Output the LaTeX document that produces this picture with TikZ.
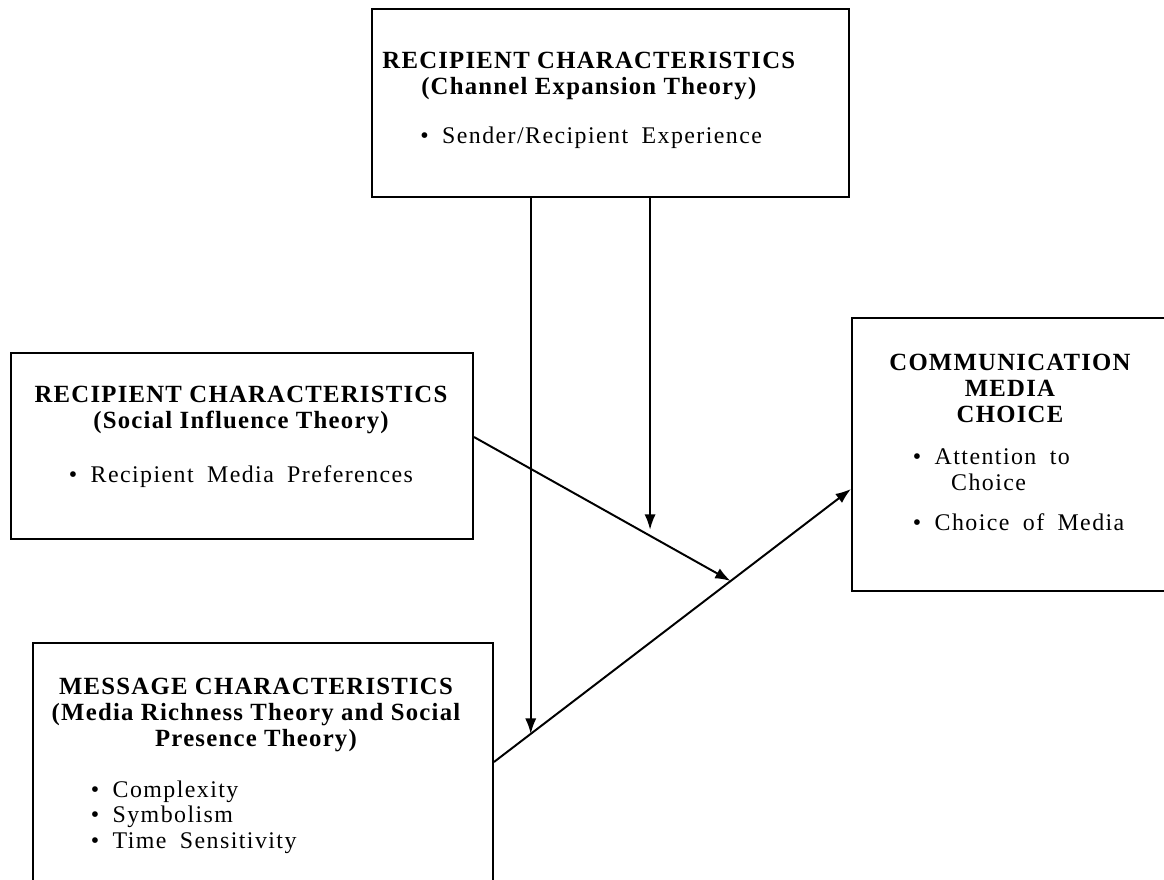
\documentclass[tikz,border=0pt]{standalone}
\usepackage{fontspec}
\setmainfont{Liberation Serif}[LetterSpace=5]
\newfontfamily\itemfont{Liberation Serif}[LetterSpace=6,WordSpace=1.8]
\usetikzlibrary{calc,arrows.meta}

\tikzset{
  box/.style={draw, line width=1.4pt, anchor=north west, inner sep=0pt},
  head/.style={font=\fontsize{17.6}{18.5}\selectfont\bfseries, align=center},
  item/.style={font=\fontsize{17}{18}\selectfont\itemfont, align=left},
  link/.style={line width=1.4pt, -{Latex[length=11pt,width=8pt]}}
}

\begin{document}
\begin{tikzpicture}
\useasboundingbox (0,0) rectangle (29.1,22);
\clip (0,0) rectangle (29.1,22);

% boxes
\node[box, minimum width=11.925cm, minimum height=4.7cm] (top) at (9.275,21.8) {};
\node[box, minimum width=11.55cm, minimum height=4.65cm] (infl) at (0.25,13.2) {};
\node[box, minimum width=11.5cm, minimum height=6.45cm] (msg) at (0.8,5.95) {};
\node[box, minimum width=8.3cm, minimum height=6.825cm] (choice) at (21.275,14.075) {};

% texts
\node[head] (toph) at (14.72,20.1) {RECIPIENT CHARACTERISTICS\\(Channel Expansion Theory)};
\node[item] (topi) at (14.78,18.55) {\textbullet\ Sender/Recipient Experience};

\node[head] (inflh) at (6.025,11.75) {RECIPIENT CHARACTERISTICS\\(Social Influence Theory)};
\node[item] (infli) at (6.025,10.075) {\textbullet\ Recipient Media Preferences};

\node[head] (msgh) at (6.4,4.125) {MESSAGE CHARACTERISTICS\\(Media Richness Theory and Social\\Presence Theory)};
\node[item, anchor=west] (msgi) at (2.15,1.575) {\textbullet\ Complexity\\\textbullet\ Symbolism\\\textbullet\ Time Sensitivity};

\node[head] (choiceh) at (25.25,12.3) {COMMUNICATION\\MEDIA\\CHOICE};
\node[item, anchor=west] (choicei) at (22.7,9.75) {\textbullet\ Attention to\\\hspace{1.6em}Choice\\[11pt]\textbullet\ Choice of Media};

% connectors
\draw[link] ($(msg.north east)+(0,-3)$) -- ($(choice.north west)+(0,-4.3)$)
  coordinate[pos=0.103] (m1) coordinate[pos=0.663] (m2);
\draw[link] ($(infl.north east)+(0,-2.125)$) -- (m2)
  coordinate[pos=0.686] (i1);
\draw[link] (top.south -| m1) -- (m1);
\draw[link, shorten >=0.15cm] (top.south -| i1) -- (i1);

\end{tikzpicture}
\end{document}
